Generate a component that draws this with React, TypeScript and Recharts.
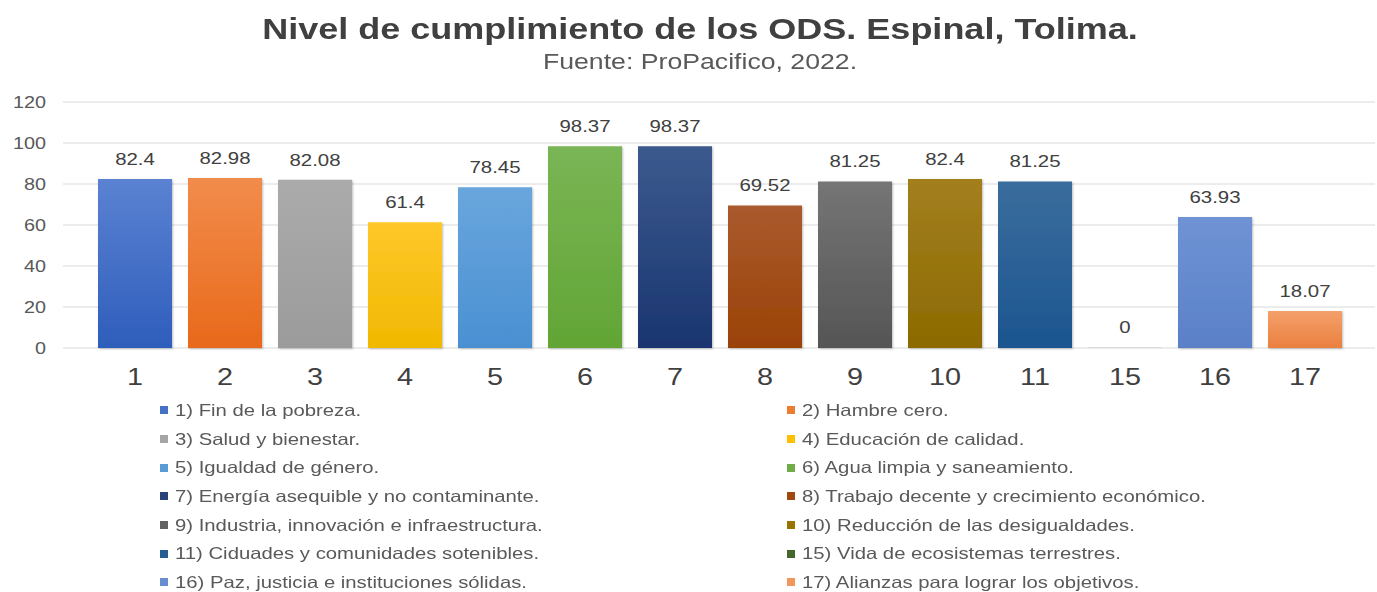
import React from 'react';
import { BarChart, Bar, XAxis, YAxis, CartesianGrid, Cell, LabelList, Legend } from 'recharts';

const categories = ['1', '2', '3', '4', '5', '6', '7', '8', '9', '10', '11', '15', '16', '17'];
const values = [82.4, 82.98, 82.08, 61.4, 78.45, 98.37, 98.37, 69.52, 81.25, 82.4, 81.25, 0, 63.93, 18.07];
const goalNames = [
  '1) Fin de la pobreza.',
  '2) Hambre cero.',
  '3) Salud y bienestar.',
  '4) Educación de calidad.',
  '5) Igualdad de género.',
  '6) Agua limpia y saneamiento.',
  '7) Energía asequible y no contaminante.',
  '8) Trabajo decente y crecimiento económico.',
  '9) Industria, innovación e infraestructura.',
  '10) Reducción de las desigualdades.',
  '11) Ciduades y comunidades sotenibles.',
  '15) Vida de ecosistemas terrestres.',
  '16) Paz, justicia e instituciones sólidas.',
  '17) Alianzas para lograr los objetivos.',
];
// top / bottom of each bar's gradient
const colorsTop = ['#5b82d2', '#f28c4c', '#ababab', '#ffc82a', '#69a6dd', '#7ab555', '#3c5a8e', '#aa5a2e', '#757575', '#a37f1f', '#3a6d9d', '#4e7435', '#6f93d4', '#f4a06a'];
const colorsBottom = ['#2e5dbb', '#e8691a', '#9b9b9b', '#f0b800', '#4a90d2', '#62a535', '#1a3570', '#9a4206', '#555555', '#8c6a00', '#1c5590', '#3c6226', '#5a80c8', '#ea8040'];
const legendColors = ['#4472c4', '#ed7d31', '#a5a5a5', '#ffc000', '#5b9bd5', '#70ad47', '#264478', '#9e480e', '#636363', '#997300', '#255e91', '#43682b', '#698ed0', '#f1975a'];
const yTicks = [0, 20, 40, 60, 80, 100, 120];

const data = categories.map((c, i) => ({ name: c, value: values[i] }));

const font = '"Liberation Sans", Arial, sans-serif';
// the source image is stretched sideways a bit
const SX = 1.2;

const XTick = (props: any) => (
  <g transform={`translate(${props.x},${props.y}) scale(${SX},1)`}>
    <text x={0} y={0} dy="0.71em" textAnchor="middle" fontSize={24} fill="#404040" fontFamily={font}>
      {props.payload.value}
    </text>
  </g>
);

const YTick = (props: any) => (
  <g transform={`translate(${props.x},${props.y}) scale(${SX},1)`}>
    <text x={0} y={0} dy="0.355em" textAnchor="end" fontSize={16.5} fill="#595959" fontFamily={font}>
      {props.payload.value}
    </text>
  </g>
);

const BarLabel = (props: any) => {
  const { x, y, width, value } = props;
  return (
    <g transform={`translate(${x + width / 2},${y - 14}) scale(${SX},1)`}>
      <text x={0} y={0} textAnchor="middle" fontSize={17} fill="#404040" fontFamily={font}>
        {value}
      </text>
    </g>
  );
};

const LegendGrid = () => (
  <div style={{ display: 'grid', gridTemplateColumns: '627px 560px', fontFamily: font }}>
    {goalNames.map((n, i) => (
      <div key={n} style={{ display: 'flex', alignItems: 'center', height: 28.7, fontSize: 16.5, color: '#595959' }}>
        <span style={{ width: 8, height: 8, background: legendColors[i], marginRight: 7, display: 'inline-block', flex: 'none' }} />
        <span style={{ display: 'inline-block', transform: `scaleX(${SX + 0.03})`, transformOrigin: 'left center', whiteSpace: 'nowrap' }}>{n}</span>
      </div>
    ))}
  </div>
);

export default function App() {
  return (
    <div style={{ position: 'absolute', left: 0, top: 0, width: 1377, height: 592, background: '#fff', fontFamily: font }}>
      <div style={{ position: 'absolute', top: 12, width: 1400, textAlign: 'center', fontSize: 30, fontWeight: 'bold', color: '#404040', transform: `scaleX(${SX})` }}>
        Nivel de cumplimiento de los ODS. Espinal, Tolima.
      </div>
      <div style={{ position: 'absolute', top: 50, width: 1400, textAlign: 'center', fontSize: 21.5, color: '#595959', transform: 'scaleX(1.24)' }}>
        Fuente: ProPacifico, 2022.
      </div>
      <BarChart width={1377} height={592} data={data} margin={{ top: 102, right: 2, left: 0, bottom: 214 }}>
        <defs>
          {colorsTop.map((c, i) => (
            <linearGradient key={i} id={`g${i}`} x1="0" y1="0" x2="0" y2="1">
              <stop offset="0%" stopColor={c} />
              <stop offset="100%" stopColor={colorsBottom[i]} />
            </linearGradient>
          ))}
          <filter id="shadow" x="-10%" y="-10%" width="130%" height="130%">
            <feDropShadow dx="1" dy="1" stdDeviation="1.2" floodColor="#000" floodOpacity="0.25" />
          </filter>
        </defs>
        <CartesianGrid vertical={false} stroke="#d9d9d9" strokeWidth={1} />
        <XAxis
          dataKey="name"
          axisLine={false}
          tickLine={false}
          padding={{ left: 27, right: 25 }}
          tick={<XTick />}
          tickMargin={14}
        />
        <YAxis
          width={63}
          domain={[0, 120]}
          ticks={yTicks}
          axisLine={false}
          tickLine={false}
          tickMargin={11}
          tick={<YTick />}
        />
        <Legend
          layout="horizontal"
          verticalAlign="middle"
          align="center"
          wrapperStyle={{ top: 396, left: 160, width: 1200 }}
          content={() => <LegendGrid />}
        />
        <Bar dataKey="value" barSize={74} minPointSize={1} isAnimationActive={false} filter="url(#shadow)">
          {data.map((d, i) => (
            <Cell key={d.name} fill={`url(#g${i})`} fillOpacity={d.value === 0 ? 0.1 : 1} />
          ))}
          <LabelList dataKey="value" content={<BarLabel />} />
        </Bar>
      </BarChart>
    </div>
  );
}
